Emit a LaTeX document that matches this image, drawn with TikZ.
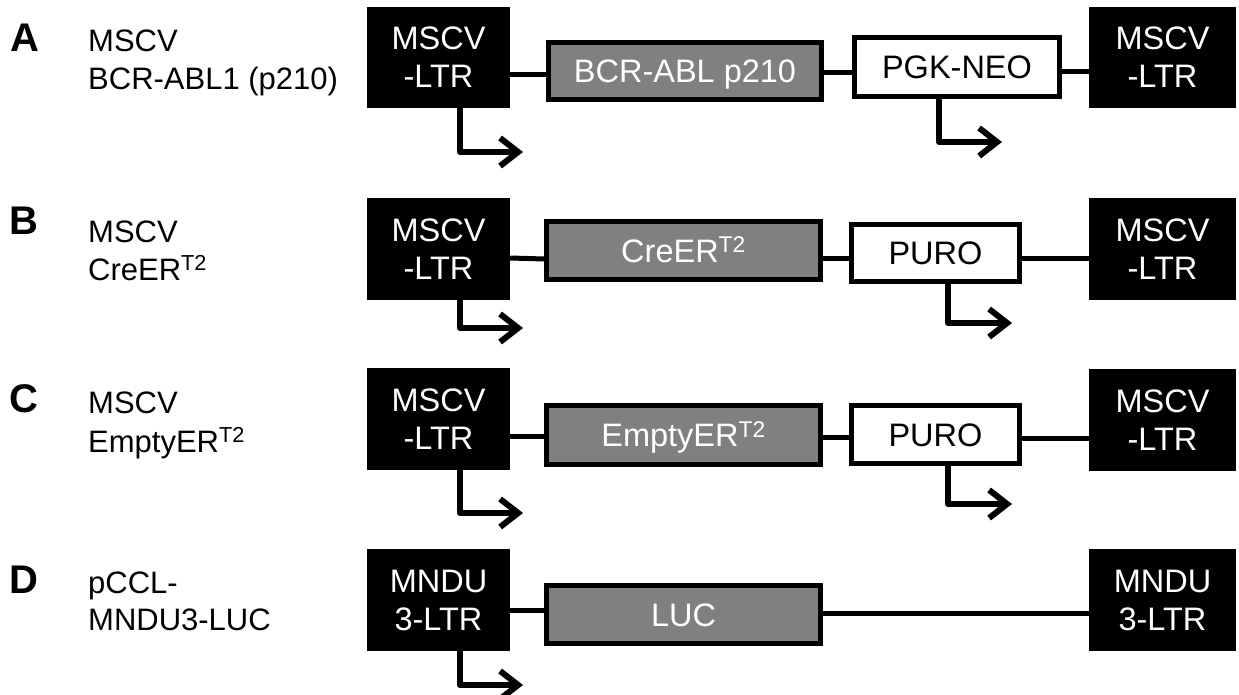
\documentclass[tikz,border=0pt]{standalone}
\usepackage{fontspec}
\setmainfont{Liberation Sans}
\usetikzlibrary{arrows.meta}
\definecolor{genegray}{HTML}{808080}
\newcommand{\boxfont}{\fontsize{32.5}{38}\selectfont}
\newcommand{\lblfont}{\fontsize{31}{37}\selectfont}
\newcommand{\letterfont}{\fontsize{40}{46}\selectfont\bfseries}
\begin{document}
\begin{tikzpicture}[x=1pt,y=-1pt,
  ltr/.style={fill=black, draw=none, text=white, minimum width=143pt, minimum height=101pt, inner sep=0pt, align=center, font=\boxfont},
  gene/.style={fill=genegray, draw=black, line width=5pt, text=white, minimum width=274pt, minimum height=58pt, inner sep=0pt, text height=23pt, text depth=0pt, font=\boxfont},
  marker/.style={fill=white, draw=black, line width=5pt, text=black, minimum height=58pt, inner sep=0pt, text height=23pt, text depth=0pt, font=\boxfont},
  link/.style={line width=5pt},
  prom/.style={line width=6pt, line join=round, -{Straight Barb[length=18pt,width=28pt]}},
  letter/.style={anchor=base west, inner sep=0pt, font=\letterfont},
  lbl/.style={anchor=base west, inner sep=0pt, font=\lblfont}]
\useasboundingbox (0,0) rectangle (1239,695);

% ---------- labels ----------
\node[letter] (LA) at (10,52) {A};
\node[lbl] (LA1) at (88,52) {MSCV};
\node[lbl] (LA2) at (88,90) {BCR-ABL1 (p210)};

\node[letter] (LB) at (9,234) {B};
\node[lbl] (LB1) at (88,242) {MSCV};
\node[lbl] (LB2) at (88,280) {CreER\textsuperscript{T2}};

\node[letter] (LC) at (9,412) {C};
\node[lbl] (LC1) at (88,413) {MSCV};
\node[lbl] (LC2) at (88,452) {EmptyER\textsuperscript{T2}};

\node[letter] (LD) at (9,593) {D};
\node[lbl] (LD1) at (88,593) {pCCL-};
\node[lbl] (LD2) at (88,630) {MNDU3-LUC};

% ---------- row A ----------
\node[ltr] (lA) at (438.5,57.5) {MSCV\\-LTR};
\node[gene, minimum width=273pt, minimum height=57pt] (gA) at (685,71) {BCR-ABL p210};
\node[marker, minimum width=205pt, minimum height=59pt] (mA) at (957,67) {PGK-NEO};
\node[ltr, minimum width=147pt] (rA) at (1162.5,57.5) {MSCV\\-LTR};
\draw[link] (lA.east |- 0,75) -- (gA.west |- 0,75);
\draw[link] (gA.east |- 0,73) -- (mA.west |- 0,73);
\draw[link] (mA.east |- 0,72) -- (rA.west |- 0,72);
\coordinate (tA1) at (523,152);
\coordinate (tA2) at (1002,142);
\draw[prom] (lA.south -| 460,0) |- (tA1);
\draw[prom] (mA.south -| 939,0) |- (tA2);

% ---------- row B ----------
\node[ltr, minimum height=102pt] (lB) at (438.5,249) {MSCV\\-LTR};
\node[gene] (gB) at (683.5,250.5) {CreER\textsuperscript{T2}};
\node[marker, minimum width=168pt, minimum height=57pt] (mB) at (935.5,253) {PURO};
\node[ltr, minimum width=147pt, minimum height=102pt] (rB) at (1162.5,249) {MSCV\\-LTR};
\draw[link] (lB.east |- 0,258) -- (gB.west |- 0,259);
\draw[link] (gB.east |- 0,258) -- (mB.west |- 0,258);
\draw[link] (mB.east |- 0,258) -- (rB.west |- 0,258);
\coordinate (tB1) at (523,328);
\coordinate (tB2) at (1012,323);
\draw[prom] (lB.south -| 460,0) |- (tB1);
\draw[prom] (mB.south -| 948,0) |- (tB2);

% ---------- row C ----------
\node[ltr, minimum height=102pt] (lC) at (438.5,419) {MSCV\\-LTR};
\node[gene, minimum height=59pt] (gC) at (683.5,435) {EmptyER\textsuperscript{T2}};
\node[marker, minimum width=168pt] (mC) at (935.5,434.5) {PURO};
\node[ltr, minimum width=147pt, minimum height=102pt] (rC) at (1162.5,420) {MSCV\\-LTR};
\draw[link] (lC.east |- 0,436) -- (gC.west |- 0,436);
\draw[link] (gC.east |- 0,437) -- (mC.west |- 0,437);
\draw[link] (mC.east |- 0,438) -- (rC.west |- 0,438);
\coordinate (tC1) at (523,513);
\coordinate (tC2) at (1012,504);
\draw[prom] (lC.south -| 460,0) |- (tC1);
\draw[prom] (mC.south -| 948,0) |- (tC2);

% ---------- row D ----------
\node[ltr, minimum height=102pt] (lD) at (438.5,600) {MNDU\\3-LTR};
\node[gene] (gD) at (683.5,614.5) {LUC};
\node[ltr, minimum width=147pt, minimum height=102pt] (rD) at (1162.5,600) {MNDU\\3-LTR};
\draw[link] (lD.east |- 0,610) -- (gD.west |- 0,610);
\draw[link] (gD.east |- 0,613) -- (rD.west |- 0,613);
\coordinate (tD1) at (523,685);
\draw[prom] (lD.south -| 460,0) |- (tD1);
\end{tikzpicture}
\end{document}
